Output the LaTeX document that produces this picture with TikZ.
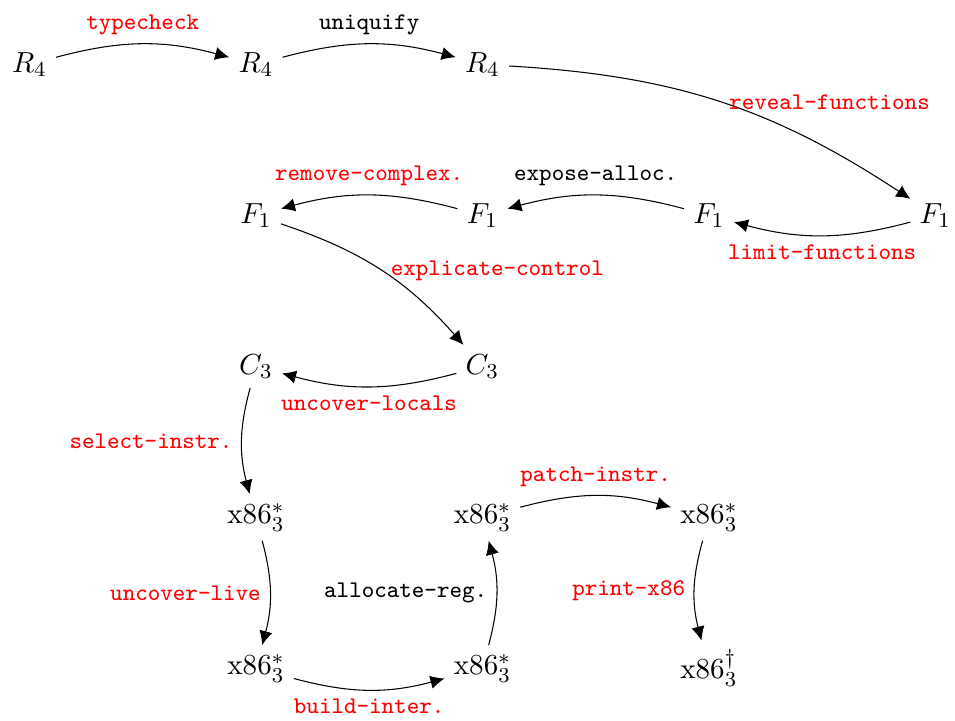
\documentclass[tikz,border=0pt]{standalone}
\usetikzlibrary{arrows.meta}
\begin{document}
\begin{tikzpicture}[>={Latex[length=5.3pt,width=5pt]},
  lang/.style={font=\fontsize{10.95}{13.6}\selectfont},
  lbl/.style={font=\fontsize{9}{11}\selectfont\ttfamily},
  red lbl/.style={lbl,text=red}]
\useasboundingbox (-0.39,-6.697) rectangle (12.26,2.853);
\node[lang] (R4) at (0,2)  {$R_4$};
\node[lang] (R4-2) at (3,2)  {$R_4$};
\node[lang] (R4-3) at (6,2)  {$R_4$};
\node[lang] (F1-1) at (12,0)  {$F_1$};
\node[lang] (F1-2) at (9,0)  {$F_1$};
\node[lang] (F1-3) at (6,0)  {$F_1$};
\node[lang] (F1-4) at (3,0)  {$F_1$};
\node[lang] (C3-2) at (3,-2)  {$C_3$};
\node[lang] (C3-3) at (6,-2)  {$C_3$};
\node[lang] (x86-2) at (3,-4)  {$\mathrm{x86}^{*}_3$};
\node[lang] (x86-3) at (6,-4)  {$\mathrm{x86}^{*}_3$};
\node[lang] (x86-4) at (9,-4) {$\mathrm{x86}^{*}_3$};
\node[lang] (x86-5) at (9,-6) {$\mathrm{x86}^{\dagger}_3$};
\node[lang] (x86-2-1) at (3,-6)  {$\mathrm{x86}^{*}_3$};
\node[lang] (x86-2-2) at (6,-6)  {$\mathrm{x86}^{*}_3$};

\path[->,bend left=15] (R4) edge node[above,red lbl] {typecheck} (R4-2);
\path[->,bend left=15] (R4-2) edge node[above,lbl] {uniquify} (R4-3);
\path[->,bend left=15] (R4-3) edge node[right,red lbl] {reveal-functions} (F1-1);
\path[->,bend left=15] (F1-1) edge node[below,red lbl] {limit-functions} (F1-2);
\path[->,bend right=15] (F1-2) edge node[above,lbl] {expose-alloc.} (F1-3);
\path[->,bend right=15] (F1-3) edge node[above,red lbl] {remove-complex.} (F1-4);
\path[->,bend left=15] (F1-4) edge node[right,red lbl] {explicate-control} (C3-3);
\path[->,bend left=15] (C3-3) edge node[below,red lbl] {uncover-locals} (C3-2);
\path[->,bend right=15] (C3-2) edge node[left,red lbl] {select-instr.} (x86-2);
\path[->,bend left=15] (x86-2) edge node[left,red lbl] {uncover-live} (x86-2-1);
\path[->,bend right=15] (x86-2-1) edge node[below,red lbl] {build-inter.} (x86-2-2);
\path[->,bend right=15] (x86-2-2) edge node[left,lbl] {allocate-reg.} (x86-3);
\path[->,bend left=15] (x86-3) edge node[above,red lbl] {patch-instr.} (x86-4);
\path[->,bend right=15] (x86-4) edge node[left,red lbl] {print-x86} (x86-5);
\end{tikzpicture}
\end{document}
